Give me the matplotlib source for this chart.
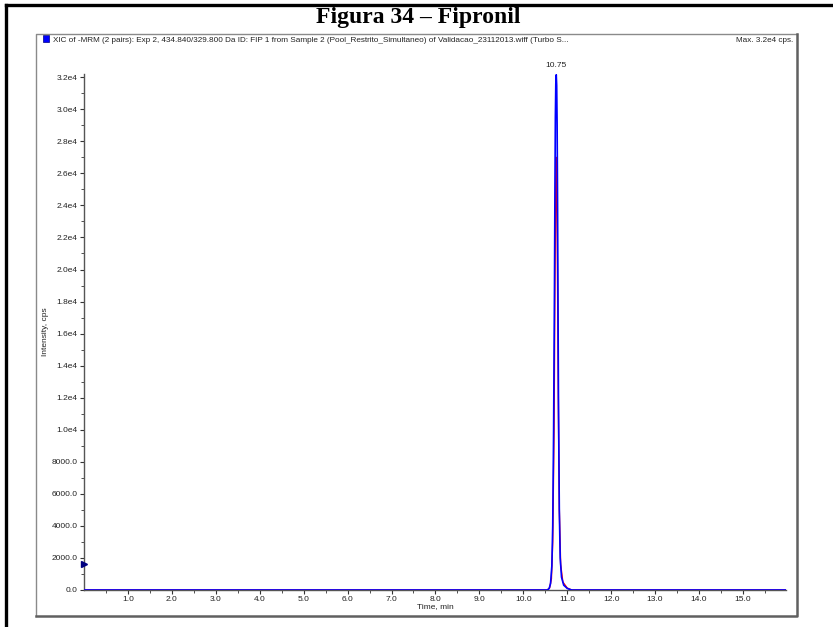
import numpy as np
import matplotlib.pyplot as plt
from matplotlib.lines import Line2D
from matplotlib.patches import Rectangle

# XIC trace, 434.840/329.800 (blue) and the second pair (red)
time_blue = [0.0, 10.55, 10.59, 10.62, 10.65, 10.67, 10.69, 10.71, 10.72, 10.73,
             10.74, 10.75, 10.76, 10.77, 10.78, 10.79, 10.80, 10.82, 10.84,
             10.87, 10.92, 11.00, 11.10, 15.98]
cps_blue = [0, 0, 100, 400, 1500, 4000, 10000, 19000, 25000, 29500,
            31600, 32150, 31500, 29000, 24000, 18000, 12000, 5000, 2000,
            800, 300, 100, 0, 0]

time_red = [0.0, 10.55, 10.60, 10.64, 10.67, 10.70, 10.72, 10.74, 10.75, 10.76,
            10.78, 10.80, 10.82, 10.85, 10.90, 11.00, 11.10, 15.98]
cps_red = [0, 0, 150, 700, 3000, 10000, 19000, 25500, 27000, 26000,
           19000, 11000, 5000, 1600, 500, 120, 0, 0]

x_ticks = np.arange(1.0, 16.0, 1.0)
y_ticks = np.arange(0, 32001, 2000)
marker_level = 1620
apex_time = 10.75

plt.rcParams['font.family'] = ['Liberation Sans', 'DejaVu Sans']
fs = 6.0

fig = plt.figure(figsize=(8.33, 6.27), dpi=100)

# page frame
fig.add_artist(Line2D([6/833, 1.0], [1 - 5/627, 1 - 5/627], color='black', lw=2.4,
                      transform=fig.transFigure))
fig.add_artist(Line2D([6/833, 6/833], [0.0, 1 - 5/627], color='black', lw=2.4,
                      transform=fig.transFigure))
fig.text(0.502, 1 - 18/627, 'Figura 34 \u2013 Fipronil', ha='center', va='center',
         fontsize=17, fontweight='bold', family='Liberation Serif')

# chart panel frame
x0, x1 = 36/833, 797/833
y0, y1 = 1 - 616/627, 1 - 34/627
fig.add_artist(Line2D([x0, x0, x1], [y0, y1, y1], color='#8a8a8a', lw=1.0,
                      transform=fig.transFigure))
fig.add_artist(Line2D([x0, x1, x1], [y0, y0, y1], color='#606060', lw=1.8,
                      transform=fig.transFigure))
fig.add_artist(Rectangle((43/833, 1 - 42/627), 6/833, 7/627, facecolor='#0000ff',
                         edgecolor='#000080', lw=0.5, transform=fig.transFigure))
header = ('XIC of -MRM (2 pairs): Exp 2, 434.840/329.800 Da ID: FIP 1 from Sample 2 '
          '(Pool_Restrito_Simultaneo) of Validacao_23112013.wiff (Turbo S...')
fig.text(53/833, 1 - 40/627, header, ha='left', va='center', fontsize=5.9, color='#222222')
fig.text(793/833, 1 - 40/627, 'Max. 3.2e4 cps.', ha='right', va='center',
         fontsize=5.9, color='#222222')

ax = fig.add_axes([84/833, 1 - 590/627, (786 - 84)/833, (590 - 74)/627])
ax.plot(time_red, cps_red, color='#ff0000', lw=1.0, zorder=3)
ax.plot(time_blue, cps_blue, color='#0000ff', lw=1.2, zorder=4)
ax.set_xlim(0, 15.98)
ax.set_ylim(0, 32200)

for s in ['top', 'right']:
    ax.spines[s].set_visible(False)
for s in ['left', 'bottom']:
    ax.spines[s].set_color('#555555')
    ax.spines[s].set_linewidth(1.0)

ax.set_xticks(x_ticks)
ax.set_xticklabels([f'{v:.1f}' for v in x_ticks])
ax.set_xticks(np.arange(0.5, 16.0, 1.0), minor=True)
ax.set_yticks(y_ticks)
ax.set_yticklabels([f'{v/1e4:.1f}e4' if v >= 10000 else f'{v:.1f}' for v in y_ticks])
ax.set_yticks(np.arange(1000, 32001, 2000), minor=True)
ax.tick_params(axis='both', which='major', labelsize=fs, length=3, width=0.8,
               color='#333333', labelcolor='#222222', pad=1.5)
ax.tick_params(axis='both', which='minor', length=2, width=0.6, color='#333333')

ax.set_xlabel('Time, min', fontsize=fs, color='#222222', labelpad=0)
ax.set_ylabel('Intensity, cps', fontsize=fs, color='#222222')
ax.yaxis.set_label_coords(-0.05, 0.5)

ax.annotate(f'{apex_time:.2f}', (apex_time, max(cps_blue)), xytext=(0, 4),
            textcoords='offset points', ha='center', va='bottom', fontsize=fs,
            color='#222222', annotation_clip=False)
ax.plot([0.0], [marker_level], marker='>', color='#000080', markersize=4,
        clip_on=False, zorder=5)

fig.savefig('out.png', dpi=100)
